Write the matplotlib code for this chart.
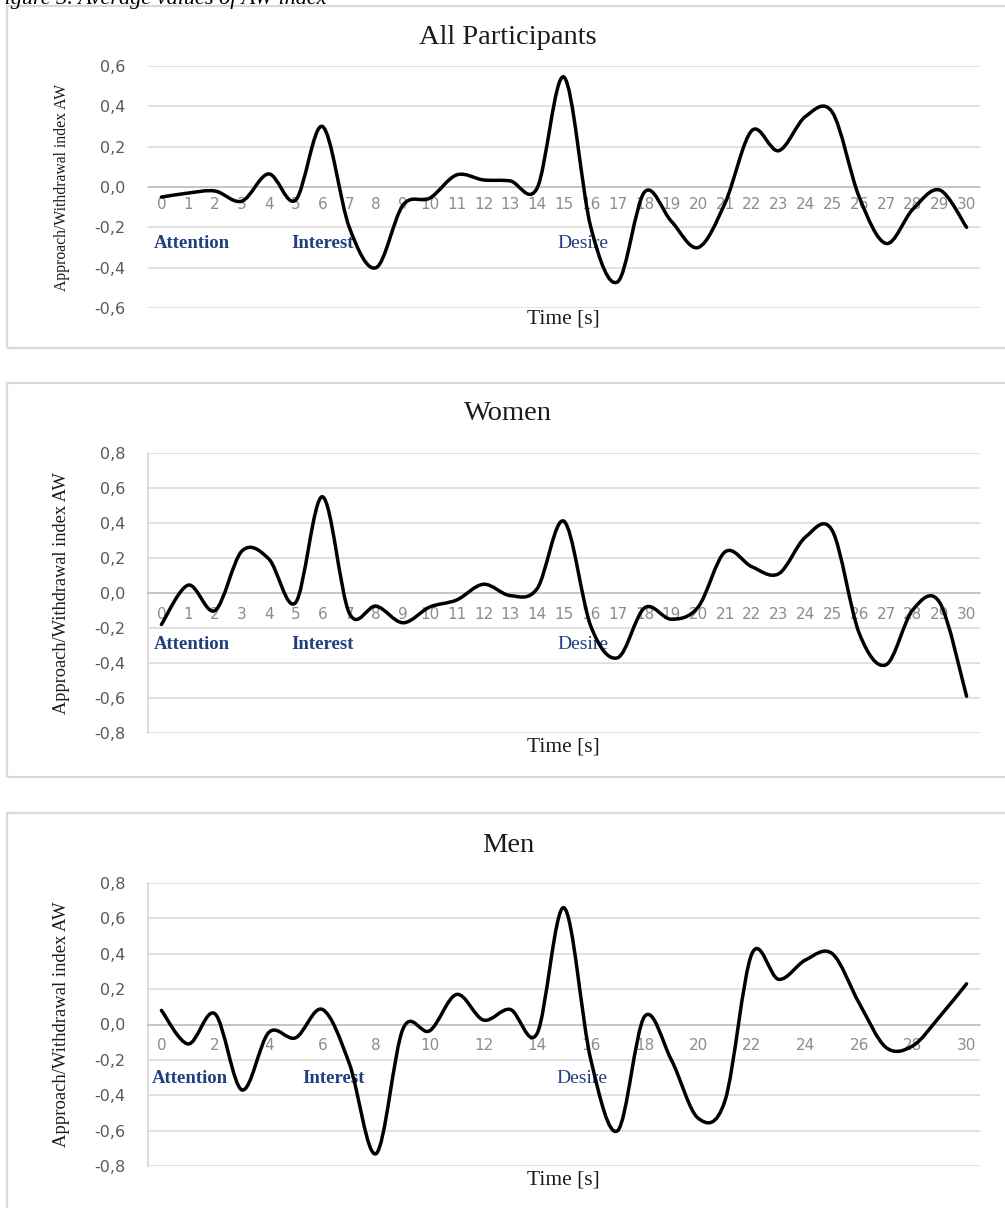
import numpy as np
import matplotlib
matplotlib.use("Agg")
import matplotlib.pyplot as plt
from matplotlib.path import Path
from matplotlib.patches import PathPatch, Rectangle

# ---------------- data ----------------
time_s = list(range(31))
aw_all = [-0.05, -0.03, -0.02, -0.07, 0.065, -0.065, 0.30, -0.20, -0.40, -0.09,
          -0.055, 0.06, 0.035, 0.03, -0.005, 0.545, -0.20, -0.47, -0.025, -0.17,
          -0.30, -0.08, 0.28, 0.18, 0.35, 0.37, -0.05, -0.28, -0.11, -0.015, -0.20]
aw_women = [-0.18, 0.045, -0.10, 0.24, 0.195, -0.055, 0.55, -0.115, -0.075, -0.17,
            -0.08, -0.04, 0.05, -0.015, 0.025, 0.41, -0.19, -0.37, -0.085, -0.15,
            -0.08, 0.235, 0.15, 0.11, 0.32, 0.355, -0.23, -0.41, -0.095, -0.055, -0.59]
aw_men = [0.08, -0.11, 0.06, -0.37, -0.045, -0.075, 0.085, -0.22, -0.73, -0.025,
          -0.035, 0.17, 0.025, 0.085, -0.05, 0.66, -0.20, -0.60, 0.045, -0.20,
          -0.53, -0.43, 0.40, 0.255, 0.365, 0.40, 0.12, -0.13, -0.12, 0.045, 0.23]

titles = ["All Participants", "Women", "Men"]
y_ticks_all = [-0.6, -0.4, -0.2, 0.0, 0.2, 0.4, 0.6]
y_labels_all = ["-0,6", "-0,4", "-0,2", "0,0", "0,2", "0,4", "0,6"]
y_ticks_gender = [-0.8, -0.6, -0.4, -0.2, 0.0, 0.2, 0.4, 0.6, 0.8]
y_labels_gender = ["-0,8", "-0,6", "-0,4", "-0,2", "0,0", "0,2", "0,4", "0,6", "0,8"]
x_ticks_full = time_s
x_ticks_men = time_s[::2]
phase_labels = ["Attention", "Interest", "Desire"]
phase_x = [-0.3, 4.85, 14.75]
y_title = "Approach/Withdrawal index AW"
x_title = "Time [s]"
caption = "Figure 3. Average values of AW index"

# ---------------- helpers ----------------
W, H = 1005, 1208
SERIF = ["Liberation Serif", "DejaVu Serif"]
SANS = ["DejaVu Sans"]
GRID = "#D9D9D9"
BLUE = "#203E80"


def fx(px):
    return px / W


def fy(py):
    return 1 - py / H


def smooth_path(xs, ys):
    """Excel-like smoothed line: cubic Bezier through points (Catmull-Rom)."""
    pts = np.column_stack([xs, ys]).astype(float)
    n = len(pts)
    verts = [pts[0]]
    codes = [Path.MOVETO]
    for i in range(n - 1):
        p0 = pts[i - 1] if i > 0 else pts[i]
        p1 = pts[i]
        p2 = pts[i + 1]
        p3 = pts[i + 2] if i + 2 < n else pts[i + 1]
        c1 = p1 + (p2 - p0) / 6.0
        c2 = p2 - (p3 - p1) / 6.0
        verts += [c1, c2, p2]
        codes += [Path.CURVE4] * 3
    return Path(verts, codes)


fig = plt.figure(figsize=(W / 100, H / 100), dpi=100)

# caption (clipped at the top edge, as in the reference)
fig.text(fx(-9), fy(4), caption, fontsize=16, family=SERIF, style="italic",
         ha="left", va="baseline", color="black")

panels = [
    dict(data=aw_all, title=titles[0], box=(7, 6, 348), ax=(66, 308), yt=y_ticks_all,
         yl=y_labels_all, lim=(-0.6, 0.6), xt=x_ticks_full, left=False, title_y=37,
         ylab_fs=11.3, xpad=7.5, phase_y=-0.278, phase_x=phase_x, time_y=319),
    dict(data=aw_women, title=titles[1], box=(7, 383, 777), ax=(453, 733), yt=y_ticks_gender,
         yl=y_labels_gender, lim=(-0.8, 0.8), xt=x_ticks_full, left=True, title_y=413,
         ylab_fs=13.2, xpad=10, phase_y=-0.297, phase_x=phase_x, time_y=747),
    dict(data=aw_men, title=titles[2], box=(7, 813, 1260), ax=(883, 1166), yt=y_ticks_gender,
         yl=y_labels_gender, lim=(-0.8, 0.8), xt=x_ticks_men, left=True, title_y=845,
         ylab_fs=13.4, xpad=10, phase_y=-0.305, phase_x=[-0.35, 5.25, 14.72], time_y=1180),
]

for p in panels:
    bx, btop, bbot = p["box"]
    fig.add_artist(Rectangle((fx(bx), fy(bbot)), fx(W + 20 - bx), (bbot - btop) / H,
                             transform=fig.transFigure, fill=False, edgecolor=GRID,
                             linewidth=1.6, zorder=0))
    top, bot = p["ax"]
    ax = fig.add_axes([fx(148), fy(bot), fx(832), (bot - top) / H])
    ax.set_xlim(-0.5, 30.5)
    ax.set_ylim(*p["lim"])
    ax.set_yticks(p["yt"])
    ax.set_yticklabels(p["yl"])
    ax.set_xticks(p["xt"])
    ax.set_xticklabels([str(t) for t in p["xt"]])
    ax.yaxis.grid(True, color=GRID, linewidth=1.1)
    ax.set_axisbelow(True)
    for s in ["top", "right"]:
        ax.spines[s].set_visible(False)
    ax.spines["left"].set_visible(p["left"])
    ax.spines["left"].set_color(GRID)
    ax.spines["left"].set_linewidth(1.3)
    ax.spines["bottom"].set_position(("data", 0))
    ax.spines["bottom"].set_color("#BFBFBF")
    ax.spines["bottom"].set_linewidth(1.1)
    ax.tick_params(axis="x", length=0, pad=p["xpad"], labelsize=11, labelcolor="#8C8C8C")
    ax.tick_params(axis="y", length=0, pad=16, labelsize=11.5, labelcolor="#595959")
    for lab in ax.get_xticklabels() + ax.get_yticklabels():
        lab.set_family(SANS)

    path = smooth_path(time_s, p["data"])
    ax.add_patch(PathPatch(path, fill=False, edgecolor="black", linewidth=2.5,
                           capstyle="round", joinstyle="round", zorder=4, clip_on=False))

    for i, txt in enumerate(phase_labels):
        bold = txt != "Desire"
        ax.text(p["phase_x"][i], p["phase_y"], txt, family=SERIF, fontsize=13.5 if bold else 14,
                fontweight="bold" if bold else "normal", color=BLUE, ha="left", va="center",
                zorder=2)

    fig.text(fx(508), fy(p["title_y"]), p["title"], family=SERIF, fontsize=20.5,
             ha="center", va="center", color="#1A1A1A")
    fig.text(fx(62), fy((top + bot) / 2), y_title, family=SERIF, fontsize=p["ylab_fs"],
             rotation=90, ha="center", va="center", color="#1A1A1A")
    fig.text(fx(563), fy(p["time_y"]), x_title, family=SERIF, fontsize=15.5,
             ha="center", va="center", color="#1A1A1A")

fig.savefig("out.png", dpi=100, facecolor="white")
